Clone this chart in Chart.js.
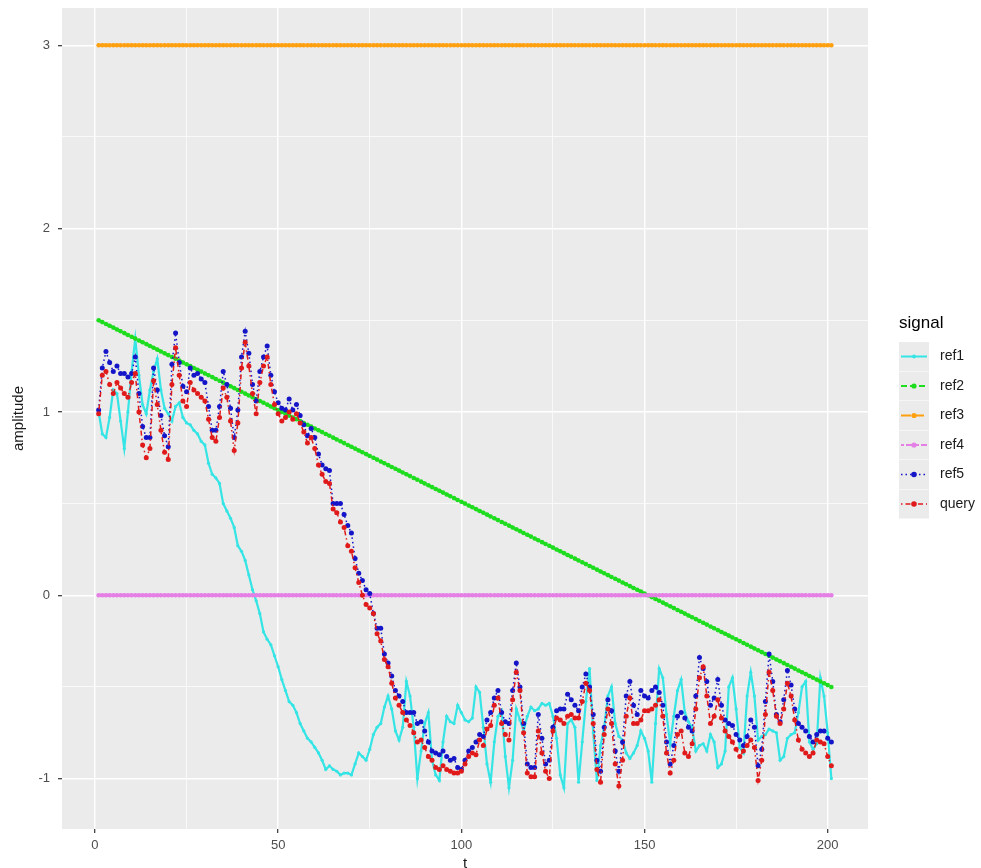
<!DOCTYPE html>
<html>
<head>
<meta charset="utf-8">
<script src="https://cdn.jsdelivr.net/npm/chart.js@4.4.1/dist/chart.umd.min.js"></script>
<style>
html,body{margin:0;padding:0;background:#ffffff;}
#wrap{width:981px;height:868px;position:relative;}
</style>
</head>
<body>
<div id="wrap"><canvas id="c"></canvas></div>
<script>
// ---- data ----
const t = [
1,2,3,4,5,6,7,8,9,10,11,12,13,14,15,16,17,18,19,20,
21,22,23,24,25,26,27,28,29,30,31,32,33,34,35,36,37,38,39,40,
41,42,43,44,45,46,47,48,49,50,51,52,53,54,55,56,57,58,59,60,
61,62,63,64,65,66,67,68,69,70,71,72,73,74,75,76,77,78,79,80,
81,82,83,84,85,86,87,88,89,90,91,92,93,94,95,96,97,98,99,100,
101,102,103,104,105,106,107,108,109,110,111,112,113,114,115,116,117,118,119,120,
121,122,123,124,125,126,127,128,129,130,131,132,133,134,135,136,137,138,139,140,
141,142,143,144,145,146,147,148,149,150,151,152,153,154,155,156,157,158,159,160,
161,162,163,164,165,166,167,168,169,170,171,172,173,174,175,176,177,178,179,180,
181,182,183,184,185,186,187,188,189,190,191,192,193,194,195,196,197,198,199,200,
201];

const ref1 = [
1.00,0.88,0.86,0.97,1.12,1.10,0.95,0.80,1.00,1.22,
1.40,1.20,1.04,0.99,1.12,1.22,1.29,1.12,1.02,0.99,
0.95,1.03,1.05,0.97,0.94,0.93,0.90,0.88,0.84,0.82,
0.72,0.66,0.64,0.61,0.50,0.46,0.42,0.37,0.27,0.24,
0.19,0.11,0.03,-0.03,-0.10,-0.20,-0.24,-0.27,-0.33,-0.39,
-0.46,-0.52,-0.58,-0.60,-0.64,-0.70,-0.74,-0.78,-0.80,-0.83,
-0.86,-0.90,-0.95,-0.93,-0.95,-0.96,-0.98,-0.97,-0.97,-0.98,
-0.92,-0.86,-0.88,-0.90,-0.84,-0.76,-0.72,-0.70,-0.61,-0.55,
-0.62,-0.74,-0.79,-0.72,-0.47,-0.55,-0.72,-1.00,-0.85,-0.70,
-0.64,-0.90,-0.98,-1.01,-0.80,-0.66,-0.69,-0.70,-0.60,-0.64,
-0.68,-0.69,-0.67,-0.50,-0.53,-0.72,-0.92,-1.02,-0.80,-0.66,
-0.63,-0.88,-1.05,-0.90,-0.62,-0.68,-0.74,-0.66,-0.61,-0.63,
-0.62,-0.59,-0.60,-0.59,-0.66,-0.78,-0.98,-1.05,-0.70,-0.68,
-0.72,-1.02,-0.80,-0.58,-0.40,-0.75,-1.01,-0.82,-0.72,-0.55,
-0.50,-0.70,-0.77,-0.79,-0.86,-0.89,-0.86,-0.82,-0.74,-0.78,
-0.85,-1.02,-0.70,-0.40,-0.45,-0.65,-0.81,-0.66,-0.52,-0.46,
-0.64,-0.69,-0.72,-0.85,-0.82,-0.81,-0.85,-0.76,-0.80,-0.94,
-0.92,-0.85,-0.50,-0.45,-0.62,-0.83,-0.86,-0.55,-0.42,-0.55,
-0.79,-0.77,-0.76,-0.73,-0.74,-0.75,-0.90,-0.88,-0.78,-0.76,
-0.75,-0.64,-0.50,-0.47,-0.80,-0.84,-0.81,-0.45,-0.55,-0.75,
-1.00];

const ref2 = [
1.50,1.49,1.48,1.47,1.46,1.45,1.44,1.43,1.42,1.41,
1.40,1.39,1.38,1.37,1.36,1.35,1.34,1.33,1.32,1.31,
1.30,1.29,1.28,1.27,1.26,1.25,1.24,1.23,1.22,1.21,
1.20,1.19,1.18,1.17,1.16,1.15,1.14,1.13,1.12,1.11,
1.10,1.09,1.08,1.07,1.06,1.05,1.04,1.03,1.02,1.01,
1.00,0.99,0.98,0.97,0.96,0.95,0.94,0.93,0.92,0.91,
0.90,0.89,0.88,0.87,0.86,0.85,0.84,0.83,0.82,0.81,
0.80,0.79,0.78,0.77,0.76,0.75,0.74,0.73,0.72,0.71,
0.70,0.69,0.68,0.67,0.66,0.65,0.64,0.63,0.62,0.61,
0.60,0.59,0.58,0.57,0.56,0.55,0.54,0.53,0.52,0.51,
0.50,0.49,0.48,0.47,0.46,0.45,0.44,0.43,0.42,0.41,
0.40,0.39,0.38,0.37,0.36,0.35,0.34,0.33,0.32,0.31,
0.30,0.29,0.28,0.27,0.26,0.25,0.24,0.23,0.22,0.21,
0.20,0.19,0.18,0.17,0.16,0.15,0.14,0.13,0.12,0.11,
0.10,0.09,0.08,0.07,0.06,0.05,0.04,0.03,0.02,0.01,
0.00,-0.01,-0.02,-0.03,-0.04,-0.05,-0.06,-0.07,-0.08,-0.09,
-0.10,-0.11,-0.12,-0.13,-0.14,-0.15,-0.16,-0.17,-0.18,-0.19,
-0.20,-0.21,-0.22,-0.23,-0.24,-0.25,-0.26,-0.27,-0.28,-0.29,
-0.30,-0.31,-0.32,-0.33,-0.34,-0.35,-0.36,-0.37,-0.38,-0.39,
-0.40,-0.41,-0.42,-0.43,-0.44,-0.45,-0.46,-0.47,-0.48,-0.49,
-0.50];

const ref3 = [
3,3,3,3,3,3,3,3,3,3,3,3,3,3,3,3,3,3,3,3,
3,3,3,3,3,3,3,3,3,3,3,3,3,3,3,3,3,3,3,3,
3,3,3,3,3,3,3,3,3,3,3,3,3,3,3,3,3,3,3,3,
3,3,3,3,3,3,3,3,3,3,3,3,3,3,3,3,3,3,3,3,
3,3,3,3,3,3,3,3,3,3,3,3,3,3,3,3,3,3,3,3,
3,3,3,3,3,3,3,3,3,3,3,3,3,3,3,3,3,3,3,3,
3,3,3,3,3,3,3,3,3,3,3,3,3,3,3,3,3,3,3,3,
3,3,3,3,3,3,3,3,3,3,3,3,3,3,3,3,3,3,3,3,
3,3,3,3,3,3,3,3,3,3,3,3,3,3,3,3,3,3,3,3,
3,3,3,3,3,3,3,3,3,3,3,3,3,3,3,3,3,3,3,3,
3];

const ref4 = [
0,0,0,0,0,0,0,0,0,0,0,0,0,0,0,0,0,0,0,0,
0,0,0,0,0,0,0,0,0,0,0,0,0,0,0,0,0,0,0,0,
0,0,0,0,0,0,0,0,0,0,0,0,0,0,0,0,0,0,0,0,
0,0,0,0,0,0,0,0,0,0,0,0,0,0,0,0,0,0,0,0,
0,0,0,0,0,0,0,0,0,0,0,0,0,0,0,0,0,0,0,0,
0,0,0,0,0,0,0,0,0,0,0,0,0,0,0,0,0,0,0,0,
0,0,0,0,0,0,0,0,0,0,0,0,0,0,0,0,0,0,0,0,
0,0,0,0,0,0,0,0,0,0,0,0,0,0,0,0,0,0,0,0,
0,0,0,0,0,0,0,0,0,0,0,0,0,0,0,0,0,0,0,0,
0,0,0,0,0,0,0,0,0,0,0,0,0,0,0,0,0,0,0,0,
0];

const ref5 = [
1.01,1.24,1.33,1.27,1.22,1.25,1.21,1.21,1.19,1.21,
1.30,1.10,0.92,0.86,0.86,1.24,1.12,0.98,0.87,0.81,
1.26,1.43,1.27,1.14,1.11,1.24,1.20,1.21,1.18,1.16,
1.03,0.90,0.90,1.03,1.22,1.15,1.02,0.86,1.01,1.30,
1.44,1.32,1.15,1.06,1.22,1.30,1.36,1.20,1.11,1.05,
1.02,1.01,1.07,1.01,1.04,0.98,0.93,0.87,0.91,0.86,
0.77,0.71,0.69,0.68,0.50,0.50,0.50,0.44,0.38,0.34,
0.20,0.12,0.08,0.03,0.01,-0.10,-0.18,-0.18,-0.32,-0.37,
-0.44,-0.52,-0.55,-0.58,-0.64,-0.64,-0.64,-0.70,-0.69,-0.74,
-0.80,-0.85,-0.86,-0.87,-0.85,-0.88,-0.90,-0.89,-0.94,-0.95,
-0.90,-0.85,-0.83,-0.80,-0.76,-0.77,-0.68,-0.64,-0.56,-0.52,
-0.64,-0.69,-0.70,-0.52,-0.37,-0.50,-0.70,-0.92,-0.94,-0.94,
-0.65,-0.78,-0.92,-0.90,-0.72,-0.63,-0.62,-0.62,-0.54,-0.57,
-0.60,-0.63,-0.50,-0.43,-0.50,-0.65,-0.90,-0.96,-0.72,-0.57,
-0.63,-0.85,-0.96,-0.80,-0.55,-0.47,-0.60,-0.65,-0.52,-0.55,
-0.56,-0.52,-0.50,-0.53,-0.60,-0.80,-0.92,-0.82,-0.66,-0.64,
-0.67,-0.72,-0.74,-0.55,-0.34,-0.40,-0.47,-0.60,-0.56,-0.46,
-0.60,-0.68,-0.70,-0.71,-0.76,-0.79,-0.82,-0.77,-0.68,-0.72,
-0.93,-0.84,-0.58,-0.32,-0.47,-0.65,-0.69,-0.57,-0.41,-0.49,
-0.62,-0.70,-0.72,-0.74,-0.77,-0.80,-0.76,-0.74,-0.74,-0.78,
-0.80];

const query = [
0.99,1.20,1.22,1.15,1.10,1.16,1.13,1.10,1.08,1.16,
1.21,1.00,0.82,0.75,0.80,1.17,1.04,0.90,0.78,0.74,
1.15,1.35,1.20,1.06,1.03,1.16,1.12,1.10,1.08,1.06,
0.96,0.86,0.84,0.97,1.13,1.08,0.95,0.79,0.94,1.24,
1.38,1.25,1.10,0.99,1.16,1.25,1.30,1.15,1.04,0.99,
0.95,0.97,1.00,0.96,0.99,0.94,0.89,0.83,0.86,0.80,
0.71,0.66,0.62,0.61,0.47,0.45,0.40,0.37,0.27,0.24,
0.15,0.07,0.00,-0.05,-0.07,-0.10,-0.21,-0.25,-0.35,-0.39,
-0.48,-0.56,-0.60,-0.64,-0.68,-0.71,-0.75,-0.80,-0.79,-0.83,
-0.88,-0.90,-0.94,-0.95,-0.93,-0.95,-0.96,-0.97,-0.97,-0.96,
-0.92,-0.88,-0.86,-0.87,-0.79,-0.82,-0.73,-0.71,-0.60,-0.56,
-0.70,-0.76,-0.79,-0.57,-0.42,-0.52,-0.75,-0.97,-0.99,-0.99,
-0.74,-0.86,-0.96,-1.00,-0.74,-0.67,-0.68,-0.70,-0.66,-0.65,
-0.67,-0.67,-0.58,-0.48,-0.52,-0.70,-0.95,-1.02,-0.76,-0.62,
-0.70,-0.92,-1.04,-0.90,-0.66,-0.56,-0.70,-0.70,-0.68,-0.63,
-0.63,-0.62,-0.60,-0.57,-0.66,-0.86,-0.97,-0.90,-0.76,-0.74,
-0.86,-0.88,-0.81,-0.62,-0.45,-0.39,-0.55,-0.70,-0.66,-0.57,
-0.67,-0.74,-0.77,-0.80,-0.84,-0.88,-0.85,-0.82,-0.79,-0.83,
-1.01,-0.90,-0.65,-0.42,-0.52,-0.66,-0.70,-0.62,-0.48,-0.55,
-0.68,-0.79,-0.84,-0.86,-0.88,-0.86,-0.79,-0.80,-0.81,-0.88,
-0.93];

const seriesNames = ['ref1','ref2','ref3','ref4','ref5','query'];
const xTicks = [0,25,50,75,100,125,150,175,200];
const yTicks = [-1,-0.5,0,0.5,1,1.5,2,2.5,3];
const legendTitle = 'signal';
const xTitle = 't';
const yTitle = 'amplitude';

// ---- styles ----
const styles = {
  ref1:  {color:'#35E4E4', width:2.2, dash:[],          r:1.6},
  ref2:  {color:'#1EDC1E', width:3.0, dash:[6,3],       r:2.3},
  ref3:  {color:'#FFA010', width:3.0, dash:[10,3],      r:2.3},
  ref4:  {color:'#E57FE5', width:3.0, dash:[3,2,8,2],   r:2.3},
  ref5:  {color:'#1414C8', width:1.5, dash:[1.5,3],     r:2.5},
  query: {color:'#E01A1A', width:1.5, dash:[1.5,3,5,3], r:2.5}
};
const values = {ref1, ref2, ref3, ref4, ref5, query};

const datasets = seriesNames.map((n, i) => ({
  label: n,
  data: values[n],
  borderColor: styles[n].color,
  backgroundColor: styles[n].color,
  borderWidth: styles[n].width,
  borderDash: styles[n].dash,
  pointRadius: styles[n].r,
  pointBorderWidth: 0,
  pointBackgroundColor: styles[n].color,
  tension: 0,
  fill: false,
  order: seriesNames.length - i
}));

const FONT = '"Liberation Sans", Arial, sans-serif';

const panelBg = {
  id: 'panelBg',
  beforeDraw(chart) {
    const {ctx, chartArea: a} = chart;
    ctx.save();
    ctx.fillStyle = '#EBEBEB';
    ctx.fillRect(a.left, a.top, a.right - a.left, a.bottom - a.top);
    ctx.restore();
  }
};

const ggLegend = {
  id: 'ggLegend',
  afterDraw(chart) {
    const ctx = chart.ctx;
    ctx.save();
    const x0 = 899, top0 = 342, rowH = 29.5, boxW = 30, boxH = 29;
    ctx.fillStyle = '#000000';
    ctx.font = '17px ' + FONT;
    ctx.textBaseline = 'middle';
    ctx.textAlign = 'left';
    ctx.fillText(legendTitle, x0, 323);
    seriesNames.forEach((n, i) => {
      const s = styles[n];
      const y = top0 + i * rowH;
      ctx.fillStyle = '#EBEBEB';
      ctx.fillRect(x0, y, boxW, boxH);
      const cy = y + boxH / 2;
      ctx.strokeStyle = s.color;
      ctx.lineWidth = Math.min(s.width, 2);
      ctx.setLineDash(s.dash);
      ctx.beginPath();
      ctx.moveTo(x0 + 2, cy);
      ctx.lineTo(x0 + boxW - 2, cy);
      ctx.stroke();
      ctx.setLineDash([]);
      ctx.fillStyle = s.color;
      ctx.beginPath();
      ctx.arc(x0 + boxW / 2, cy, s.r + 0.3, 0, Math.PI * 2);
      ctx.fill();
      ctx.fillStyle = '#1A1A1A';
      ctx.font = '14px ' + FONT;
      ctx.fillText(n, 940, cy);
    });
    ctx.restore();
  }
};

new Chart(document.getElementById('c'), {
  type: 'line',
  data: { labels: t, datasets },
  plugins: [panelBg, ggLegend],
  options: {
    responsive: true,
    maintainAspectRatio: false,
    animation: false,
    devicePixelRatio: 1,
    layout: { padding: { top: 8, right: 113, left: 0, bottom: 0 } },
    plugins: { legend: { display: false }, tooltip: { enabled: false } },
    scales: {
      x: {
        type: 'linear',
        min: -9, max: 211,
        afterBuildTicks: s => { s.ticks = xTicks.map(v => ({value: v})); },
        afterFit: s => { s.height = 39; s.paddingLeft = 0; s.paddingRight = 0; },
        border: { display: false },
        grid: {
          color: '#FFFFFF',
          lineWidth: c => (c.tick && c.tick.value % 50 === 0) ? 1.4 : 0.7,
          tickColor: c => (c.tick && c.tick.value % 50 === 0) ? '#333333' : 'rgba(0,0,0,0)',
          tickWidth: 1.2,
          tickLength: 4
        },
        ticks: {
          autoSkip: false, maxRotation: 0,
          color: '#4D4D4D', font: { family: FONT, size: 13 }, padding: 5,
          callback: v => (v % 50 === 0 ? String(v) : '')
        },
        title: { display: true, text: xTitle, color: '#1A1A1A',
                 font: { family: FONT, size: 15, lineHeight: 0.5 }, padding: { top: 0, bottom: 0 } }
      },
      y: {
        type: 'linear',
        min: -1.275, max: 3.2035,
        afterBuildTicks: s => { s.ticks = yTicks.map(v => ({value: v})); },
        afterFit: s => { s.width = 62; s.paddingTop = 0; s.paddingBottom = 0; },
        border: { display: false },
        grid: {
          color: '#FFFFFF',
          lineWidth: c => (c.tick && Number.isInteger(c.tick.value)) ? 1.4 : 0.7,
          tickColor: c => (c.tick && Number.isInteger(c.tick.value)) ? '#333333' : 'rgba(0,0,0,0)',
          tickWidth: 1.2,
          tickLength: 4
        },
        ticks: {
          autoSkip: false,
          color: '#4D4D4D', font: { family: FONT, size: 13 }, padding: 8,
          callback: v => (Number.isInteger(v) ? String(v) : '')
        },
        title: { display: true, text: yTitle, color: '#1A1A1A',
                 font: { family: FONT, size: 15 }, padding: { top: 10, bottom: 0 } }
      }
    }
  }
});
</script>
</body>
</html>
